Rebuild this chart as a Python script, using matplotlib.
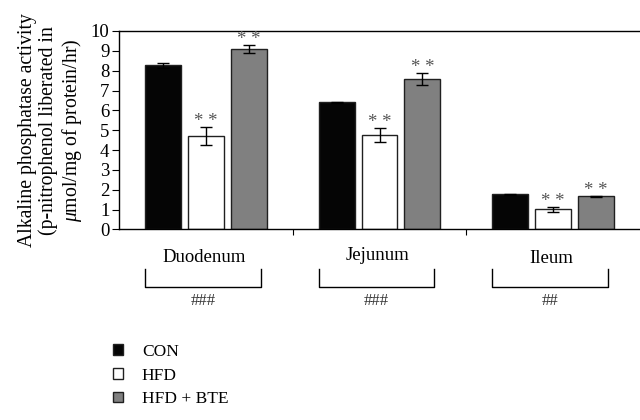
import matplotlib
matplotlib.use("Agg")
import matplotlib.pyplot as plt
from matplotlib.patches import Patch
import matplotlib.transforms as mtransforms

plt.rcParams['font.family'] = ['Liberation Serif', 'DejaVu Serif']
plt.rcParams['mathtext.fontset'] = 'custom'
plt.rcParams['mathtext.it'] = 'Liberation Serif:italic'
plt.rcParams['mathtext.rm'] = 'Liberation Serif'

categories = ["Duodenum", "Jejunum", "Ileum"]
groups = ["CON", "HFD", "HFD + BTE"]
con = [8.27, 6.41, 1.78]
con_err = [0.12, 0.03, 0.03]
hfd = [4.7, 4.77, 1.02]
hfd_err = [0.45, 0.35, 0.12]
bte = [9.08, 7.6, 1.67]
bte_err = [0.2, 0.3, 0.03]
stars_hfd = ["* *", "* *", "* *"]
stars_bte = ["* *", "* *", "* *"]
hashes = ["###", "###", "##"]

fig = plt.figure(figsize=(6.4, 4.2), dpi=100)
ax = fig.add_axes([0.186, 0.4536, 0.814, 0.4726])

colors = ["#050505", "#ffffff", "#808080"]
series = [con, hfd, bte]
errs = [con_err, hfd_err, bte_err]
offsets = [-0.247, 0.0, 0.247]
width = 0.207
for s, e, c, off, name in zip(series, errs, colors, offsets, groups):
    xs = [i + 0.5 + off for i in range(len(categories))]
    ax.bar(xs, s, width=width, color=c, edgecolor="#202020", linewidth=1.0,
           yerr=e, capsize=4, error_kw=dict(elinewidth=1.0, capthick=1.0, ecolor="black"),
           label=name, zorder=2)

for i in range(len(categories)):
    ax.text(i + 0.5, hfd[i] + hfd_err[i] - 0.15, stars_hfd[i], ha="center", va="bottom",
            fontsize=13.5, color="#555555")
    ax.text(i + 0.5 + 0.247, bte[i] + bte_err[i] - 0.15, stars_bte[i], ha="center", va="bottom",
            fontsize=13.5, color="#555555")

ax.set_xlim(0, 3)
ax.set_ylim(0, 10)
ax.set_yticks(range(0, 11))
ax.set_xticks([1, 2])
ax.set_xticklabels([])
ax.tick_params(axis="y", direction="out", length=5, labelsize=13.5, pad=2)
ax.tick_params(axis="x", direction="out", length=4)
ax.spines["right"].set_visible(False)
for sp in ["left", "bottom", "top"]:
    ax.spines[sp].set_linewidth(1.0)

ax.set_ylabel("Alkaline phosphatase activity\n(p-nitrophenol liberated in\n$\\mu$mol/mg of protein/hr)",
              fontsize=14.2, linespacing=1.1, labelpad=5)

trans = mtransforms.blended_transform_factory(ax.transData, ax.transAxes)
label_y = [-0.14, -0.13, -0.145]
for i, cat in enumerate(categories):
    ax.text(i + 0.49, label_y[i], cat, transform=trans, ha="center", va="center", fontsize=13.5)
    x0, x1 = i + 0.15, i + 0.815
    ax.plot([x0, x0, x1, x1], [-0.20, -0.29, -0.29, -0.20], transform=trans,
            color="black", linewidth=1.0, clip_on=False)
    ax.text((x0 + x1) / 2, -0.36, hashes[i], transform=trans, ha="center", va="center",
            fontsize=12, color="#333333")

handles = [Patch(facecolor=c, edgecolor="#202020", linewidth=1.0, label=g) for c, g in zip(colors, groups)]
fig.legend(handles=handles, loc="upper left", bbox_to_anchor=(0.166, 0.198), frameon=False,
           fontsize=12.5, handlelength=0.55, handleheight=0.55, handletextpad=1.1, labelspacing=0.45,
           borderaxespad=0)

fig.savefig("out.png", dpi=100)
